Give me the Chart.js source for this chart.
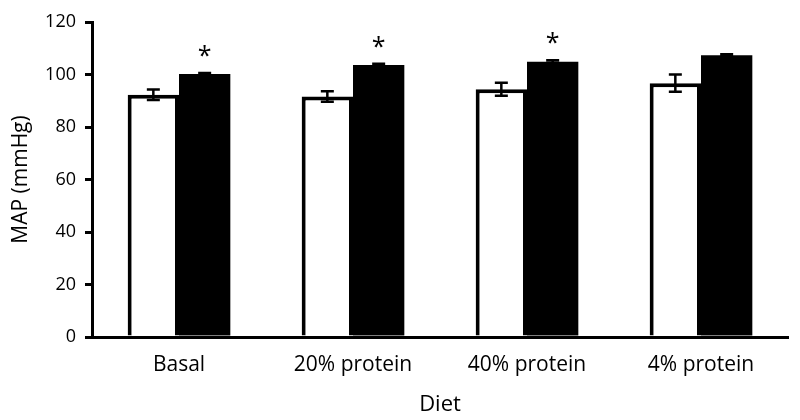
<!DOCTYPE html>
<html>
<head>
<meta charset="utf-8">
<script src="https://cdn.jsdelivr.net/npm/chart.js@4/dist/chart.umd.min.js"></script>
<style>
  html, body { margin: 0; padding: 0; background: #fff; }
  #wrap { width: 800px; height: 420px; position: relative; }
</style>
</head>
<body>
<div id="wrap"><canvas id="c" width="800" height="420"></canvas></div>
<script>
const categories = ['Basal', '20% protein', '40% protein', '4% protein'];
const controlValues = [92.3, 91.6, 94.4, 96.7];
const controlErrors = [2.0, 2.0, 2.5, 3.3];
const treatedValues = [100.2, 103.6, 104.9, 107.3];
const treatedErrors = [0.4, 0.5, 0.5, 0.4];
const treatedMarks = ['*', '*', '*', ''];
const yTicks = [0, 20, 40, 60, 80, 100, 120];

Chart.defaults.font.family = "'Open Sans', 'DejaVu Sans', sans-serif";
Chart.defaults.color = '#000';

const errorsByDataset = [controlErrors, treatedErrors];
const marksByDataset = [null, treatedMarks];

const errorBarPlugin = {
  id: 'errorBars',
  afterDatasetsDraw(chart) {
    const ctx = chart.ctx;
    const yScale = chart.scales.y;
    chart.data.datasets.forEach((ds, di) => {
      const meta = chart.getDatasetMeta(di);
      const errs = errorsByDataset[di];
      const marks = marksByDataset[di];
      meta.data.forEach((el, i) => {
        const v = ds.data[i];
        const e = errs[i];
        const x = el.x;
        const yTop = yScale.getPixelForValue(v + e);
        const yBot = yScale.getPixelForValue(v - e);
        const cap = 6.5;
        ctx.save();
        ctx.strokeStyle = '#000';
        ctx.lineWidth = 2.5;
        ctx.beginPath();
        ctx.moveTo(x, yTop); ctx.lineTo(x, yBot);
        ctx.moveTo(x - cap, yTop); ctx.lineTo(x + cap, yTop);
        ctx.moveTo(x - cap, yBot); ctx.lineTo(x + cap, yBot);
        ctx.stroke();
        if (marks && marks[i]) {
          ctx.fillStyle = '#000';
          ctx.font = "25px 'Open Sans', 'DejaVu Sans', sans-serif";
          ctx.textAlign = 'center';
          ctx.textBaseline = 'alphabetic';
          ctx.fillText(marks[i], x, yTop - 9);
        }
        ctx.restore();
      });
    });
  }
};

new Chart(document.getElementById('c'), {
  type: 'bar',
  data: {
    labels: categories,
    datasets: [
      {
        label: 'Control',
        data: controlValues,
        backgroundColor: '#fff',
        borderColor: '#000',
        borderWidth: 4,
        borderSkipped: 'start',
        barPercentage: 1.0,
        categoryPercentage: 0.59
      },
      {
        label: 'Treated',
        data: treatedValues,
        backgroundColor: '#000',
        borderColor: '#000',
        borderWidth: 0,
        barPercentage: 1.0,
        categoryPercentage: 0.59
      }
    ]
  },
  options: {
    responsive: false,
    animation: false,
    layout: { padding: { top: 22, right: 12, left: 0, bottom: 0 } },
    plugins: {
      legend: { display: false },
      tooltip: { enabled: false }
    },
    scales: {
      x: {
        grid: { display: false },
        border: { display: true, color: '#000', width: 3 },
        ticks: {
          color: '#000',
          font: { size: 21 },
          padding: 7,
          maxRotation: 0
        },
        title: {
          display: true,
          text: 'Diet',
          color: '#000',
          font: { size: 22 },
          padding: { top: 0, bottom: 2 }
        },
        afterFit(scale) { scale.height = 83; }
      },
      y: {
        min: 0,
        max: 120,
        afterBuildTicks(scale) { scale.ticks = yTicks.map(v => ({ value: v })); },
        grid: {
          display: true,
          drawOnChartArea: false,
          drawTicks: true,
          tickLength: 7,
          tickWidth: 3,
          tickColor: '#000',
          color: '#000',
          lineWidth: 3
        },
        border: { display: true, color: '#000', width: 3 },
        ticks: {
          color: '#000',
          font: { size: 18 },
          padding: 9
        },
        title: {
          display: true,
          text: 'MAP (mmHg)',
          color: '#000',
          font: { size: 21 },
          padding: { top: 8, bottom: 0 }
        },
        afterFit(scale) { scale.width = 92; }
      }
    }
  },
  plugins: [errorBarPlugin]
});
</script>
</body>
</html>
